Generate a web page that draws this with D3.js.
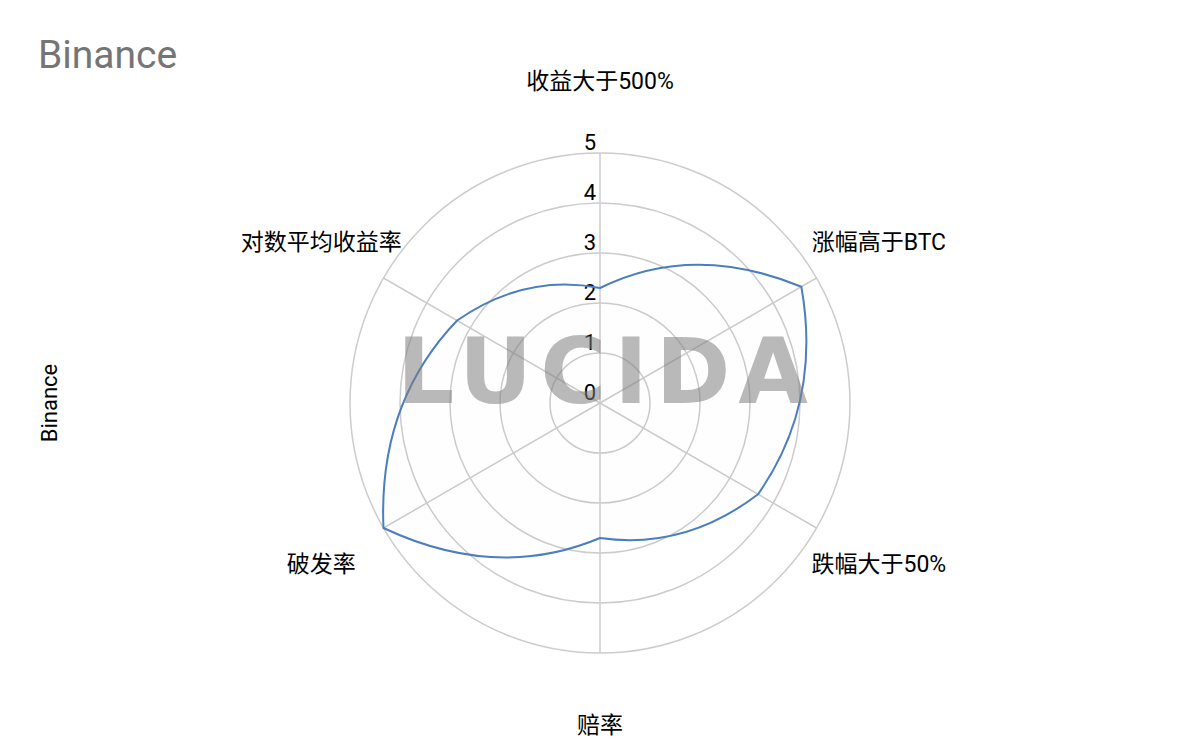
<!DOCTYPE html>
<html>
<head>
<meta charset="utf-8">
<script src="https://cdn.jsdelivr.net/npm/d3@7"></script>
<style>
  body { margin: 0; background: #fff; }
  text { font-family: Roboto, "Noto Sans CJK SC", sans-serif; }
</style>
</head>
<body>
<div id="chart"></div>
<script>
// data
const axisNames = ["收益大于500%", "涨幅高于BTC", "跌幅大于50%", "赔率", "破发率", "对数平均收益率"];
const values = [2.3, 4.65, 3.65, 2.7, 5.0, 3.3];
const ticks = [0, 1, 2, 3, 4, 5];
const chartTitle = "Binance";
const seriesName = "Binance";
const watermark = "LUCIDA";

// layout
const width = 1200, height = 742;
const cx = 600, cy = 403, radius = 250;

const svg = d3.select("#chart").append("svg")
  .attr("width", width)
  .attr("height", height);

const r = d3.scaleLinear().domain([0, 5]).range([0, radius]);
const angle = d3.scaleLinear().domain([0, axisNames.length]).range([0, 2 * Math.PI]);

function pt(a, d) {
  return [cx + d * Math.sin(a), cy - d * Math.cos(a)];
}

// rings
svg.append("g")
  .selectAll("circle")
  .data(ticks.filter(t => t > 0))
  .enter()
  .append("circle")
    .attr("cx", cx)
    .attr("cy", cy)
    .attr("r", d => r(d))
    .attr("fill", "none")
    .attr("stroke", "#cccccc")
    .attr("stroke-width", 1.5);

// spokes
svg.append("g")
  .selectAll("line")
  .data(axisNames)
  .enter()
  .append("line")
    .attr("x1", cx)
    .attr("y1", cy)
    .attr("x2", (d, i) => pt(angle(i), r(5))[0])
    .attr("y2", (d, i) => pt(angle(i), r(5))[1])
    .attr("stroke", "#cccccc")
    .attr("stroke-width", 1.5);

// tick labels along the top spoke
svg.append("g")
  .selectAll("text")
  .data(ticks)
  .enter()
  .append("text")
    .attr("x", cx - 4)
    .attr("y", d => cy - r(d) - 3)
    .attr("text-anchor", "end")
    .attr("font-size", 22)
    .attr("fill", "#000")
    .text(d => d);

// axis names
svg.append("g")
  .selectAll("text")
  .data(axisNames)
  .enter()
  .append("text")
    .attr("x", (d, i) => pt(angle(i), 322)[0])
    .attr("y", (d, i) => pt(angle(i), 322)[1])
    .attr("text-anchor", "middle")
    .attr("dominant-baseline", "central")
    .attr("font-size", 23)
    .attr("fill", "#000")
    .text(d => d);

// series shape: each segment bends outward a little
const path = d3.path();
values.forEach(function(v, i) {
  const p = pt(angle(i), r(v));
  if (i === 0) path.moveTo(p[0], p[1]);
});
for (let i = 0; i < values.length; i++) {
  const j = (i + 1) % values.length;
  const mid = (angle(i) + angle(i + 1)) / 2;
  const c = pt(mid, 1.07 * (r(values[i]) + r(values[j])) / 2);
  const p = pt(angle(j), r(values[j]));
  path.quadraticCurveTo(c[0], c[1], p[0], p[1]);
}
path.closePath();

svg.append("path")
  .attr("d", path.toString())
  .attr("fill", "#4a7ebf")
  .attr("fill-opacity", 0.008)
  .attr("stroke", "#4a7ebf")
  .attr("stroke-width", 2)
  .attr("stroke-linejoin", "miter");

// title
svg.append("text")
  .attr("x", 38)
  .attr("y", 68)
  .attr("font-size", 39)
  .attr("fill", "#757575")
  .text(chartTitle);

// rotated series label
svg.append("text")
  .attr("transform", "translate(57," + cy + ") rotate(-90)")
  .attr("text-anchor", "middle")
  .attr("font-size", 22)
  .attr("fill", "#000")
  .text(seriesName);

// watermark on top
svg.append("text")
  .attr("x", 397)
  .attr("y", 403)
  .attr("textLength", 411)
  .attr("lengthAdjust", "spacing")
  .style("font-family", "'DejaVu Sans', sans-serif")
  .attr("font-size", 90)
  .attr("font-weight", "bold")
  .attr("fill", "#808080")
  .attr("fill-opacity", 0.55)
  .text(watermark);
</script>
</body>
</html>
